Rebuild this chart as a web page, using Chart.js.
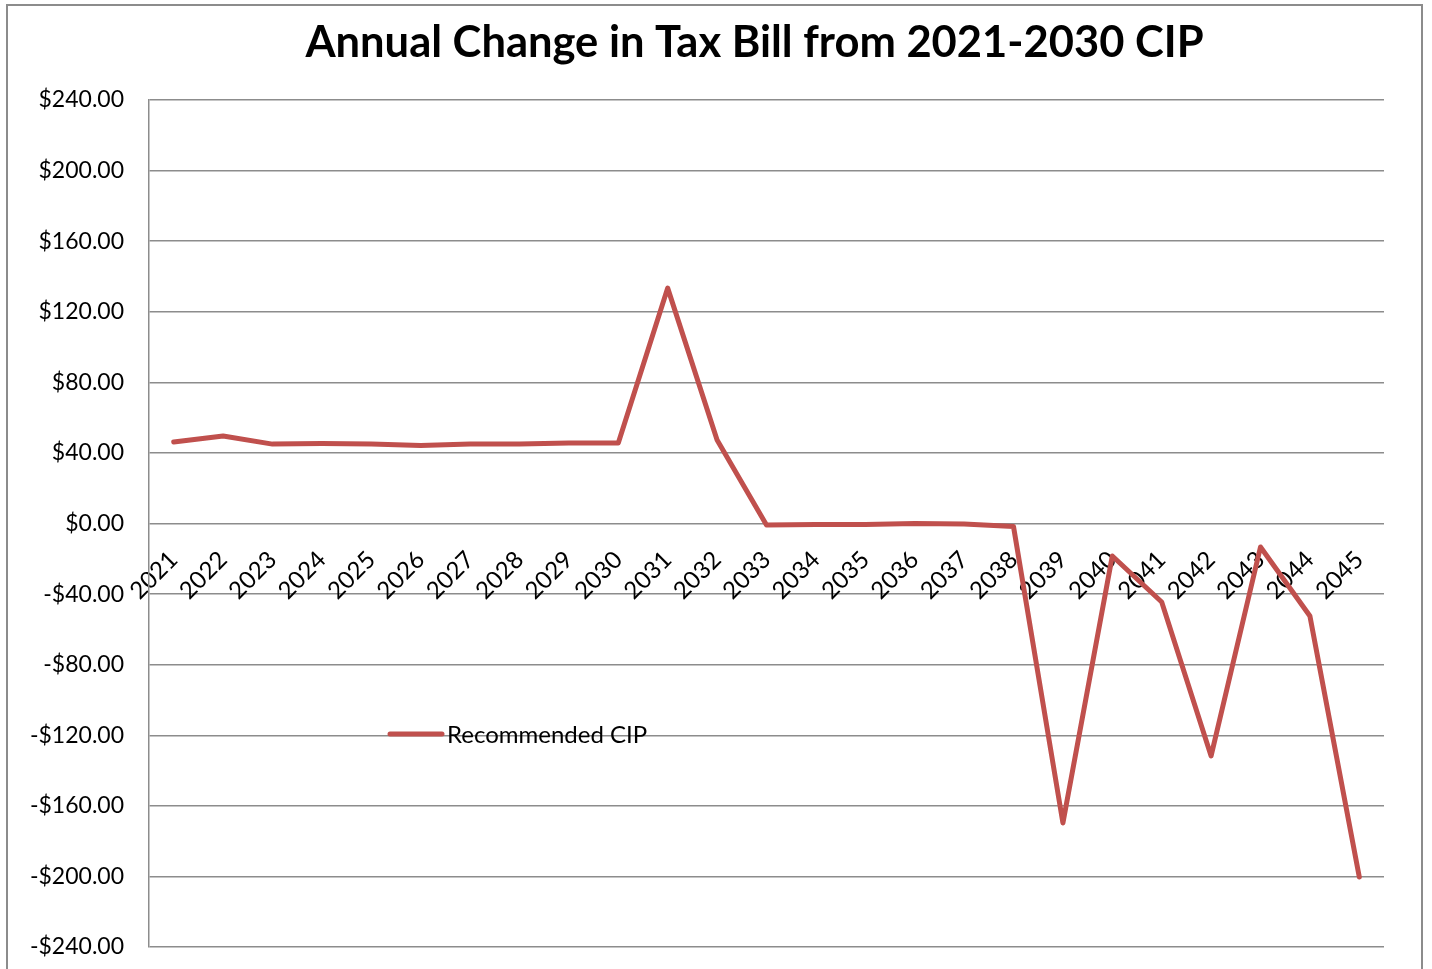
<!DOCTYPE html>
<html>
<head>
<meta charset="utf-8">
<script src="https://cdn.jsdelivr.net/npm/chart.js@4.4.1/dist/chart.umd.min.js"></script>
<style>
  html, body { margin: 0; padding: 0; background: #fff; }
  #frame {
    position: absolute; left: 6px; top: 4px; width: 1417px; height: 1000px;
    border: 2px solid #8c8c8c; box-sizing: border-box;
  }
  #wrap { position: absolute; left: 0; top: 0; width: 1432px; height: 969px; }
</style>
</head>
<body>
<div id="frame"></div>
<div id="wrap"><canvas id="taxChart"></canvas></div>
<script>
// Chart data
const years = [
  "2021", "2022", "2023", "2024", "2025", "2026", "2027", "2028", "2029",
  "2030", "2031", "2032", "2033", "2034", "2035", "2036", "2037", "2038",
  "2039", "2040", "2041", "2042", "2043", "2044", "2045"
];
const recommendedCIP = [
  46.2, 49.6, 45.0, 45.3, 45.0, 44.2, 45.0, 45.0, 45.6,
  45.6, 133.4, 47.3, -0.8, -0.6, -0.6, 0.0, -0.3, -1.7,
  -169.7, -18.4, -44.5, -131.7, -13.3, -52.4, -200.3
];
const yTicks = [-240, -200, -160, -120, -80, -40, 0, 40, 80, 120, 160, 200, 240];
const chartTitle = "Annual Change in Tax Bill from 2021-2030 CIP";

const FONT = "Lato, 'Open Sans', sans-serif";
const GRID = "#8c8c8c";

const fmtMoney = (v) => (v < 0 ? "-$" : "$") + Math.abs(v).toFixed(2);

// Title drawn by hand so it can sit slightly left of the plot centre
const sheetTitle = {
  id: "sheetTitle",
  afterDraw(chart) {
    const { ctx, chartArea } = chart;
    ctx.save();
    ctx.fillStyle = "#000";
    ctx.font = "bold 43.5px " + FONT;
    ctx.textAlign = "center";
    ctx.textBaseline = "alphabetic";
    ctx.fillText(chartTitle, (chartArea.left + chartArea.right) / 2 - 12, 57);
    ctx.restore();
  }
};

// Legend drawn inside the plot area, like the original
const insideLegend = {
  id: "insideLegend",
  afterDatasetsDraw(chart) {
    const { ctx, chartArea } = chart;
    const ds = chart.data.datasets[0];
    const x = chartArea.left + 241;
    const y = chartArea.top + 634;
    ctx.save();
    ctx.strokeStyle = ds.borderColor;
    ctx.lineWidth = 5;
    ctx.lineCap = "round";
    ctx.beginPath();
    ctx.moveTo(x, y);
    ctx.lineTo(x + 52, y);
    ctx.stroke();
    ctx.fillStyle = "#000";
    ctx.font = "24px " + FONT;
    ctx.textBaseline = "middle";
    ctx.fillText(ds.label, x + 57, y + 1);
    ctx.restore();
  }
};

const ctx = document.getElementById("taxChart").getContext("2d");
new Chart(ctx, {
  type: "line",
  data: {
    labels: years,
    datasets: [
      {
        label: "Recommended CIP",
        data: recommendedCIP,
        borderColor: "#C0504D",
        borderWidth: 5,
        borderJoinStyle: "round",
        borderCapStyle: "round",
        pointRadius: 0,
        fill: false,
        tension: 0,
      },
    ],
  },
  options: {
    responsive: true,
    maintainAspectRatio: false,
    animation: false,
    layout: { padding: { top: 100, left: 29, right: 48, bottom: 22 } },
    plugins: {
      legend: { display: false },
      tooltip: { enabled: false },
      title: { display: false },
    },
    scales: {
      x: {
        position: { y: 0 },
        offset: true,
        grid: { display: false, drawTicks: false },
        border: { display: false },
        ticks: {
          autoSkip: false,
          minRotation: 45,
          maxRotation: 45,
          padding: 22,
          color: "#000",
          font: { family: FONT, size: 24 },
        },
      },
      y: {
        min: -240,
        max: 240,
        afterBuildTicks: (scale) => {
          scale.ticks = yTicks.map((v) => ({ value: v }));
        },
        afterFit: (scale) => { scale.width = 120; },
        // invisible tick marks give the label gap without adding layout padding
        grid: { color: GRID, lineWidth: 1.5, drawTicks: true, tickLength: 25, tickColor: "rgba(0,0,0,0)" },
        border: { display: true, color: GRID, width: 1.5 },
        ticks: {
          padding: 0,
          color: "#000",
          font: { family: FONT, size: 23 },
          callback: (v) => fmtMoney(v),
        },
      },
    },
  },
  plugins: [insideLegend, sheetTitle],
});
</script>
</body>
</html>
